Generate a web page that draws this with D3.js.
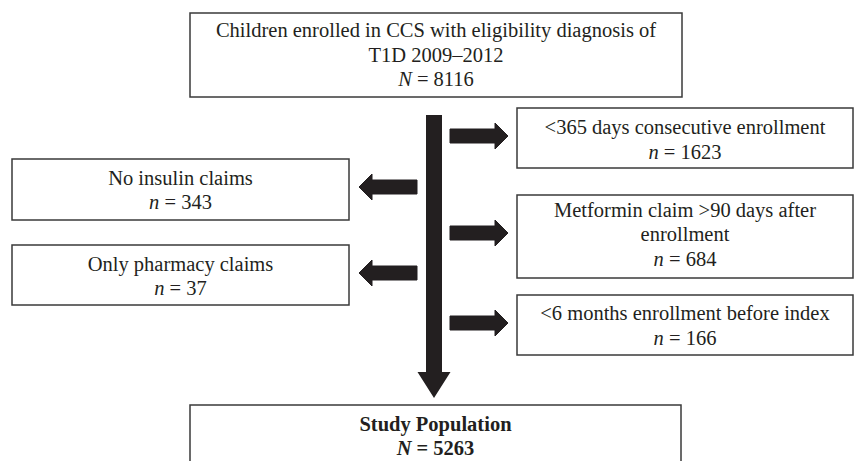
<!DOCTYPE html>
<html>
<head>
<meta charset="utf-8">
<script src="https://cdn.jsdelivr.net/npm/d3@7"></script>
<style>
  body { margin: 0; background: #fff; }
</style>
</head>
<body>
<div id="chart"></div>
<script>
// data: step labels and counts
const steps = ["start", "exclLate", "exclInsulin", "exclMetformin", "exclPharmacy", "exclIndex", "final"]
const labels = [
  ["Children enrolled in CCS with eligibility diagnosis of", "T1D 2009\u20132012"],
  ["<365 days consecutive enrollment"],
  ["No insulin claims"],
  ["Metformin claim >90 days after", "enrollment"],
  ["Only pharmacy claims"],
  ["<6 months enrollment before index"],
  ["Study Population"]
]
const counts = [8116, 1623, 343, 684, 37, 166, 5263]
const countSymbols = ["N", "n", "n", "n", "n", "n", "N"]

// layout (pixels)
const width = 855
const height = 461
const fontSize = 20.5
const lineH = 24.5
const fontFamily = "'Liberation Serif', 'DejaVu Serif', 'Times New Roman', Times, serif"
const boxes = {
  start:         {x0: 190, x1: 682, y0: 13,  y1: 97,  cy: 55},
  exclLate:      {x0: 517, x1: 853, y0: 108, y1: 168, cy: 140},
  exclInsulin:   {x0: 12,  x1: 349, y0: 159, y1: 220, cy: 190.5},
  exclMetformin: {x0: 517, x1: 853, y0: 195, y1: 278, cy: 234.5},
  exclPharmacy:  {x0: 12,  x1: 349, y0: 245, y1: 305, cy: 276.5},
  exclIndex:     {x0: 517, x1: 853, y0: 295, y1: 355, cy: 326},
  final:         {x0: 190, x1: 681, y0: 405, y1: 480, cy: 436.5}
}
const mainX = 434
const rightArrows = [136, 233, 323]
const leftArrows = [187, 273]
const ink = "#231f20"

const svg = d3.select("#chart").append("svg")
  .attr("width", width)
  .attr("height", height)

// main vertical arrow
const mainTop = 115, mainTip = 398, headLen = 26, shaftW = 16, headW = 33
svg.append("path")
  .attr("d", d3.line()([
    [mainX - shaftW / 2, mainTop], [mainX + shaftW / 2, mainTop],
    [mainX + shaftW / 2, mainTip - headLen], [mainX + headW / 2, mainTip - headLen],
    [mainX, mainTip], [mainX - headW / 2, mainTip - headLen],
    [mainX - shaftW / 2, mainTip - headLen]
  ]) + "Z")
  .attr("fill", ink)

// side arrows: dir 1 = to the right, -1 = to the left
function sideArrow(y, xStart, xTip, dir) {
  const sw = 14, hw = 26, hl = 13
  const xb = xTip - dir * hl
  svg.append("path")
    .attr("d", d3.line()([
      [xStart, y - sw / 2], [xb, y - sw / 2], [xb, y - hw / 2],
      [xTip, y], [xb, y + hw / 2], [xb, y + sw / 2], [xStart, y + sw / 2]
    ]) + "Z")
    .attr("fill", ink)
    .attr("stroke", ink)
    .attr("stroke-width", 1)
    .attr("stroke-linejoin", "round")
}
rightArrows.forEach(y => sideArrow(y, 450, 508, 1))
leftArrows.forEach(y => sideArrow(y, 417, 359, -1))

// boxes
const nodes = steps.map((s, i) => ({
  key: s, lines: labels[i], count: counts[i], sym: countSymbols[i], b: boxes[s]
}))

const g = svg.selectAll("g.node").data(nodes).enter().append("g").attr("class", "node")

g.append("rect")
  .attr("x", d => d.b.x0)
  .attr("y", d => d.b.y0)
  .attr("width", d => d.b.x1 - d.b.x0)
  .attr("height", d => d.b.y1 - d.b.y0)
  .attr("fill", "#fff")
  .attr("stroke", "#3a3a3a")
  .attr("stroke-width", 1.5)

g.each(function(d) {
  const el = d3.select(this)
  const n = d.lines.length + 1
  const cx = (d.b.x0 + d.b.x1) / 2
  const firstY = d.b.cy - (n - 1) * lineH / 2
  const bold = d.key === "final" ? "bold" : "normal"
  d.lines.forEach((line, i) => {
    el.append("text")
      .attr("x", cx)
      .attr("y", firstY + i * lineH + 6.5)
      .attr("text-anchor", "middle")
      .attr("font-family", fontFamily)
      .attr("font-size", fontSize)
      .attr("font-weight", bold)
      .attr("fill", ink)
      .text(line)
  })
  const t = el.append("text")
    .attr("x", cx)
    .attr("y", firstY + (n - 1) * lineH + 6.5)
    .attr("text-anchor", "middle")
    .attr("font-family", fontFamily)
    .attr("font-size", fontSize)
    .attr("font-weight", bold)
    .attr("fill", ink)
  t.append("tspan").attr("font-style", "italic").text(d.sym)
  t.append("tspan").text(" = " + d.count)
})
</script>
</body>
</html>
